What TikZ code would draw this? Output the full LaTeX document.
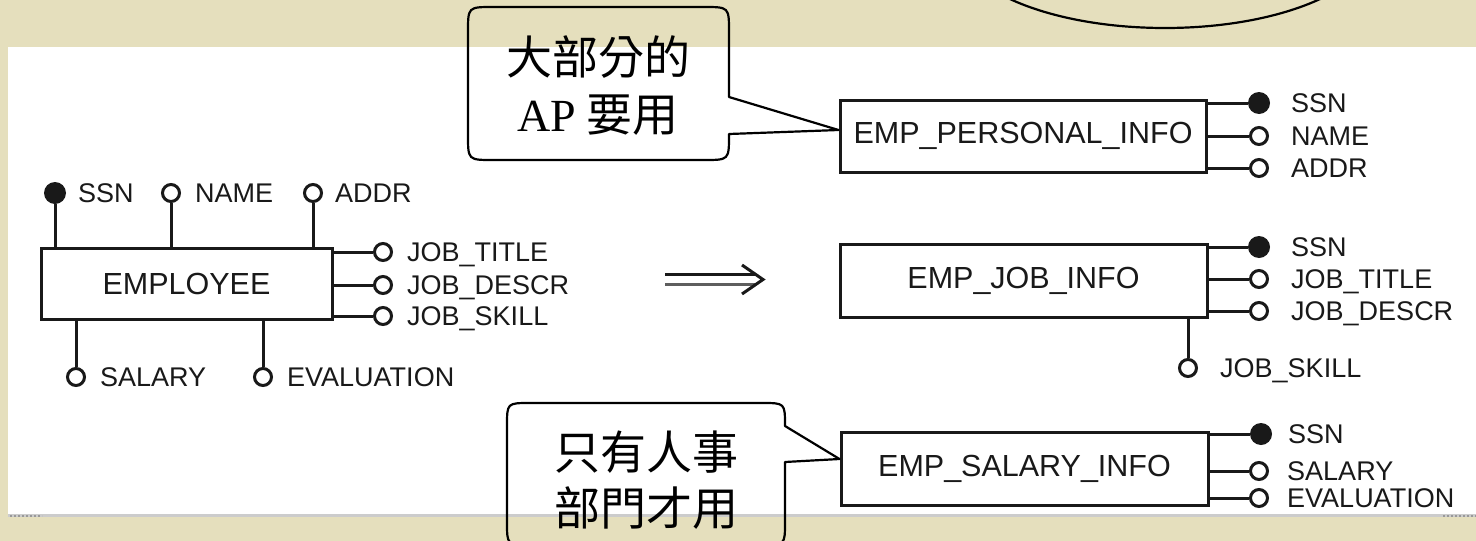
\documentclass[tikz,border=0pt]{standalone}
\usepackage{fontspec}
\setmainfont{Liberation Sans}
\newfontfamily\cjk{Noto Sans CJK TC}
\newfontfamily\tnr{Liberation Serif}
\usetikzlibrary{calc}
\definecolor{bg}{RGB}{229,223,189}
\definecolor{ink}{RGB}{25,25,25}
\tikzset{
  entity/.style={draw=ink, line width=3pt, inner sep=0pt, text=ink,
    font=\fontsize{30.5}{30.5}\selectfont},
  attr/.style={circle, draw=ink, line width=3pt, fill=white, minimum size=17pt, inner sep=0pt},
  keyattr/.style={circle, fill=ink, minimum size=22pt, inner sep=0pt},
  lbl/.style={anchor=base west, inner sep=0pt, text=ink, font=\fontsize{27}{27}\selectfont},
  conn/.style={draw=ink, line width=3pt},
  callout/.style={draw=black, line width=2.2pt, line join=round},
  cjktext/.style={inner sep=0pt, font=\cjk\fontsize{46}{46}\selectfont}
}
\begin{document}
\begin{tikzpicture}[x=1pt,y=-1pt]
\useasboundingbox (0,0) rectangle (1476,541);
\clip (0,0) rectangle (1476,541);
% background
\fill[bg] (0,0) rectangle (1476,541);
\fill[white] (8,47) rectangle (1476,514);
\draw[gray!40, line width=3pt] (8,515.5) -- (1476,515.5);
\draw[gray!80, dotted, line width=2pt] (10,516) -- (42,516);
\draw[gray!80, dotted, line width=2pt] (1443,516) -- (1476,516);

% partial callout at top right
\draw[callout] (1165,-60) ellipse [x radius=209, y radius=88];

% ===== EMPLOYEE =====
\node[entity, minimum width=291pt, minimum height=71pt] (emp) at (186.5,283.5) {EMPLOYEE};
\node[keyattr] (essn) at (55,193) {};
\node[attr] (ename) at (171,193) {};
\node[attr] (eaddr) at (313,193) {};
\node[attr] (ejt) at (383,252) {};
\node[attr] (ejd) at (383,285) {};
\node[attr] (ejs) at (383,316) {};
\node[attr] (esal) at (76,377) {};
\node[attr] (eeval) at (263,377) {};
\draw[conn] (emp.north -| essn) -- (essn);
\draw[conn] (emp.north -| ename) -- (ename);
\draw[conn] (emp.north -| eaddr) -- (eaddr);
\draw[conn] (emp.east |- ejt) -- (ejt);
\draw[conn] (emp.east |- ejd) -- (ejd);
\draw[conn] (emp.east |- ejs) -- (ejs);
\draw[conn] (emp.south -| esal) -- (esal);
\draw[conn] (emp.south -| eeval) -- (eeval);
\node[lbl] (lessn) at ($(essn)+(23,9.5)$) {SSN};
\node[lbl] (lename) at ($(ename)+(24,9.5)$) {NAME};
\node[lbl] (leaddr) at ($(eaddr)+(22,9.5)$) {ADDR};
\node[lbl] (lejt) at ($(ejt)+(24,9.5)$) {JOB\_TITLE};
\node[lbl] (lejd) at ($(ejd)+(24,9.5)$) {JOB\_DESCR};
\node[lbl] (lejs) at ($(ejs)+(24,9.5)$) {JOB\_SKILL};
\node[lbl] (lesal) at ($(esal)+(24,9.5)$) {SALARY};
\node[lbl] (leeval) at ($(eeval)+(24,9.5)$) {EVALUATION};

% ===== arrow =====
\coordinate (arrS) at (665,279.5);
\coordinate (arrE) at (763,279.5);
\draw[ink, line width=3.5pt] ($(arrS)+(0,-5)$) -- ($(arrE)+(-8,-5)$);
\draw[ink!70, line width=3.5pt] ($(arrS)+(0,5)$) -- ($(arrE)+(-8,5)$);
\draw[ink, line width=3pt] ($(arrE)+(-21,-14.5)$) -- (arrE) -- ($(arrE)+(-21,14.5)$);

% ===== EMP_PERSONAL_INFO =====
\node[entity, minimum width=366pt, minimum height=72pt] (pbox) at (1023,136) {EMP\_PERSONAL\_INFO};
\node[keyattr] (pssn) at (1259,103) {};
\node[attr] (pname) at (1259,136) {};
\node[attr] (paddr) at (1259,168) {};
\draw[conn] (pbox.east |- pssn) -- (pssn);
\draw[conn] (pbox.east |- pname) -- (pname);
\draw[conn] (pbox.east |- paddr) -- (paddr);
\node[lbl] (lpssn) at ($(pssn)+(32,9.5)$) {SSN};
\node[lbl] (lpname) at ($(pname)+(32,9.5)$) {NAME};
\node[lbl] (lpaddr) at ($(paddr)+(32,9.5)$) {ADDR};

% ===== EMP_JOB_INFO =====
\node[entity, minimum width=367pt, minimum height=73pt] (jbox) at (1023.5,280.5) {EMP\_JOB\_INFO};
\node[keyattr] (jssn) at (1259,247) {};
\node[attr] (jjt) at (1259,279) {};
\node[attr] (jjd) at (1259,311) {};
\node[attr] (jjs) at (1188,368) {};
\draw[conn] (jbox.east |- jssn) -- (jssn);
\draw[conn] (jbox.east |- jjt) -- (jjt);
\draw[conn] (jbox.east |- jjd) -- (jjd);
\draw[conn] (jbox.south -| jjs) -- (jjs);
\node[lbl] (ljssn) at ($(jssn)+(32,9.5)$) {SSN};
\node[lbl] (ljjt) at ($(jjt)+(32,9.5)$) {JOB\_TITLE};
\node[lbl] (ljjd) at ($(jjd)+(32,9.5)$) {JOB\_DESCR};
\node[lbl] (ljjs) at ($(jjs)+(32,9.5)$) {JOB\_SKILL};

% ===== EMP_SALARY_INFO =====
\node[entity, minimum width=367pt, minimum height=73pt] (sbox) at (1024.5,468.5) {EMP\_SALARY\_INFO};
\node[keyattr] (sssn) at (1261,434) {};
\node[attr] (ssal) at (1259,471) {};
\node[attr] (seval) at (1259,498) {};
\draw[conn] (sbox.east |- sssn) -- (sssn);
\draw[conn] (sbox.east |- ssal) -- (ssal);
\draw[conn] (sbox.east |- seval) -- (seval);
\node[lbl] (lsssn) at ($(sssn)+(27,9.5)$) {SSN};
\node[lbl] (lssal) at ($(ssal)+(28,9.5)$) {SALARY};
\node[lbl] (lseval) at ($(seval)+(28,9.5)$) {EVALUATION};

% ===== callout 1 =====
\draw[callout] (493,7) -- (704,7) .. controls (729,7) .. (729,32) -- (729,97)
  -- (pbox.west |- 0,130) -- (729,134) -- (729,135) .. controls (729,160) .. (704,160)
  -- (493,160) .. controls (468,160) .. (468,135) -- (468,32) .. controls (468,7) .. (493,7) -- cycle;
\node[cjktext] (c1a) at (598,57) {大部分的};
\node[cjktext] (c1b) at (598,115) {{\tnr AP} 要用};

% ===== callout 2 =====
\draw[callout] (530,403) -- (762,403) .. controls (785,403) .. (785,426)
  -- (sbox.west |- 0,459) -- (785,462) -- (785,522) .. controls (785,545) .. (762,545)
  -- (530,545) .. controls (507,545) .. (507,522) -- (507,426) .. controls (507,403) .. (530,403) -- cycle;
\node[cjktext] (c2a) at (646,452) {只有人事};
\node[cjktext] (c2b) at (646,508) {部門才用};
\end{tikzpicture}
\end{document}
